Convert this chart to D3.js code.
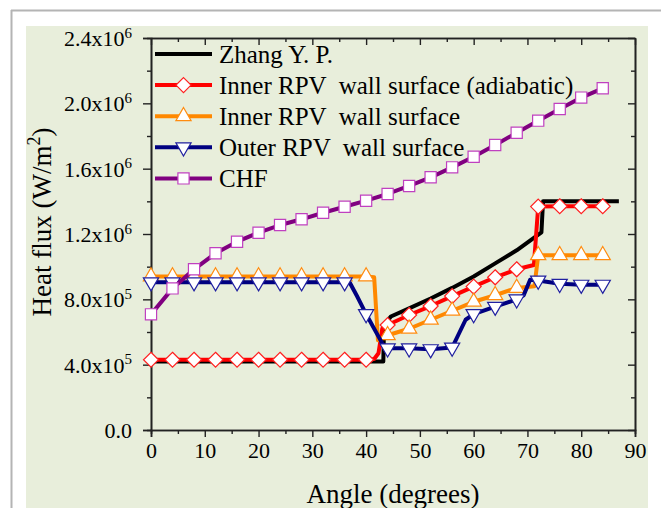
<!DOCTYPE html>
<html><head><meta charset="utf-8">
<script src="https://cdn.jsdelivr.net/npm/d3@7"></script>
<style>
html,body{margin:0;padding:0;background:#fff;}
text{font-family:"Liberation Serif","Times New Roman",serif;fill:#000;}
</style>
</head><body>
<svg id="chart" width="661" height="508"></svg>
<script>
// ---------------- data ----------------
const markerAngles = [0,4,8,12,16,20,24,28,32,36,40,44,48,52,56,60,64,68,72,76,80,84];

const zhangAngles = [0,43.2,43.3,43.8,44.6,48,52,56,60,64,68,72.6,72.9,87];
const zhangValues = [4.2e5,4.2e5,5.8e5,6.6e5,6.95e5,7.45e5,8.05e5,8.7e5,9.4e5,1.02e6,1.1e6,1.21e6,1.4e6,1.4e6];

const adiabaticValues = [4.3e5,4.3e5,4.3e5,4.3e5,4.3e5,4.3e5,4.3e5,4.3e5,4.3e5,4.3e5,4.3e5,
  6.43e5,7.04e5,7.59e5,8.2e5,8.78e5,9.35e5,9.84e5,1.368e6,1.37e6,1.37e6,1.37e6];
const adiabaticExtraAngles = [41.5,42.3,43,71.2];
const adiabaticExtraValues = [4.35e5,4.7e5,6.2e5,1.01e6];

const innerValues = [9.4e5,9.4e5,9.4e5,9.4e5,9.4e5,9.4e5,9.4e5,9.4e5,9.4e5,9.4e5,9.4e5,
  5.8e5,6.2e5,6.75e5,7.3e5,7.85e5,8.25e5,8.7e5,1.07e6,1.07e6,1.07e6,1.07e6];
const innerExtraAngles = [41.5,42.2,71.3];
const innerExtraValues = [9.35e5,5.5e5,8.8e5];

const outerValues = [9.05e5,9.05e5,9.05e5,9.05e5,9.05e5,9.05e5,9.05e5,9.05e5,9.05e5,9.05e5,7.1e5,
  5.0e5,5.0e5,4.95e5,5.05e5,7.1e5,7.55e5,8.0e5,9.15e5,8.95e5,8.9e5,8.9e5];
const outerExtraAngles = [37,38.3,42,43.5,58.5,69.3,70.5];
const outerExtraValues = [9.0e5,8.2e5,5.9e5,5.0e5,6.75e5,8.25e5,9.2e5];

const chfValues = [7.08e5,8.67e5,9.84e5,1.082e6,1.153e6,1.208e6,1.255e6,1.29e6,1.33e6,1.367e6,1.404e6,
  1.445e6,1.494e6,1.547e6,1.608e6,1.673e6,1.745e6,1.82e6,1.894e6,1.965e6,2.035e6,2.092e6];

const seriesNames = ["Zhang Y. P.","Inner RPV  wall surface (adiabatic)","Inner RPV  wall surface","Outer RPV  wall surface","CHF"];

const xTickValues = [0,10,20,30,40,50,60,70,80,90];
const xMinorTickValues = [5,15,25,35,45,55,65,75,85];
const yTickValues = [0,4e5,8e5,1.2e6,1.6e6,2.0e6,2.4e6];
const yTickMantissas = ["0.0","4.0x10","8.0x10","1.2x10","1.6x10","2.0x10","2.4x10"];
const yTickExponents = ["","5","5","6","6","6","6"];
const yMinorTickValues = [2e5,6e5,1.0e6,1.4e6,1.8e6,2.2e6];

const xTitle = "Angle (degrees)";
const yTitleMain = "Heat flux (W/m";
const yTitleSup = "2";

// ---------------- drawing ----------------
const svg = d3.select("#chart");
svg.append("rect").attr("x",0).attr("y",0).attr("width",661).attr("height",508).attr("fill","#fff");
svg.append("rect").attr("x",26).attr("y",26).attr("width",622).attr("height",482).attr("fill","#e8eedb");
svg.append("line").attr("x1",11).attr("x2",661).attr("y1",10.5).attr("y2",10.5).attr("stroke","#b4b4b4").attr("stroke-width",2);
svg.append("line").attr("x1",11.5).attr("x2",11.5).attr("y1",10).attr("y2",508).attr("stroke","#b4b4b4").attr("stroke-width",2);

const x = d3.scaleLinear().domain([0,90]).range([151,635]);
const y = d3.scaleLinear().domain([0,2.4e6]).range([430,38]);

const axisColor = "#222";
function styleAxis(g){
  g.select(".domain").attr("stroke",axisColor).attr("stroke-width",1.6);
  g.selectAll(".tick line").attr("stroke",axisColor).attr("stroke-width",1.4);
}
// bottom
svg.append("g").attr("transform","translate(0,430)")
  .call(d3.axisBottom(x).tickValues(xMinorTickValues).tickSize(4).tickFormat(""))
  .call(styleAxis);
const gx = svg.append("g").attr("transform","translate(0,430)")
  .call(d3.axisBottom(x).tickValues(xTickValues).tickSize(7).tickPadding(5).tickFormat(d=>d))
  .call(styleAxis);
gx.selectAll(".tick text").attr("font-size",22).attr("font-family","Liberation Serif").attr("fill","#000");
// top
svg.append("g").attr("transform","translate(0,38)")
  .call(d3.axisTop(x).tickValues(xTickValues).tickSizeInner(-7).tickSizeOuter(0).tickFormat(""))
  .call(styleAxis);
svg.append("g").attr("transform","translate(0,38)")
  .call(d3.axisTop(x).tickValues(xMinorTickValues).tickSizeInner(-4).tickSizeOuter(0).tickFormat(""))
  .call(styleAxis);
// left
svg.append("g").attr("transform","translate(151,0)")
  .call(d3.axisLeft(y).tickValues(yMinorTickValues).tickSize(4).tickFormat(""))
  .call(styleAxis);
const gy = svg.append("g").attr("transform","translate(151,0)")
  .call(d3.axisLeft(y).tickValues(yTickValues).tickSize(8).tickPadding(11).tickFormat(""))
  .call(styleAxis);
gy.selectAll(".tick text").each(function(d,i){
  const t = d3.select(this).attr("font-size",22).attr("font-family","Liberation Serif").attr("fill","#000").attr("dy","0.34em");
  t.text(null);
  t.append("tspan").text(yTickMantissas[i]);
  if (yTickExponents[i]) t.append("tspan").attr("font-size",15).attr("dy","-0.55em").text(yTickExponents[i]);
});
// right
svg.append("g").attr("transform","translate(635,0)")
  .call(d3.axisRight(y).tickValues(yTickValues).tickSizeInner(-7).tickSizeOuter(0).tickFormat(""))
  .call(styleAxis);
svg.append("g").attr("transform","translate(635,0)")
  .call(d3.axisRight(y).tickValues(yMinorTickValues).tickSizeInner(-4).tickSizeOuter(0).tickFormat(""))
  .call(styleAxis);

// titles
svg.append("text").attr("x",393).attr("y",503).attr("text-anchor","middle").attr("font-size",27).text(xTitle);
const yt = svg.append("text").attr("transform","translate(51,222) rotate(-90)").attr("text-anchor","middle").attr("font-size",27);
yt.append("tspan").text(yTitleMain);
yt.append("tspan").attr("font-size",18).attr("dy","-0.6em").text(yTitleSup);
yt.append("tspan").attr("dy","0.4em").text(")");

// marker shapes
const shapes = {
  none: null,
  diamond: "M0,-7.5L7.5,0L0,7.5L-7.5,0Z",
  up: "M0,-8.7L7.6,4.4L-7.6,4.4Z",
  down: "M0,8.7L7.6,-4.4L-7.6,-4.4Z",
  square: "M-5.6,-5.6H5.6V5.6H-5.6Z"
};

function merge(angles, values, exA, exV){
  const pts = angles.map((a,i)=>[a,values[i]]);
  exA.forEach((a,i)=>pts.push([a,exV[i]]));
  return pts.sort((p,q)=>p[0]-q[0]);
}

const series = [
  {name:seriesNames[0], line:zhangAngles.map((a,i)=>[a,zhangValues[i]]), markers:[], color:"#000000", mstroke:"#000", shape:"none"},
  {name:seriesNames[1], line:merge(markerAngles,adiabaticValues,adiabaticExtraAngles,adiabaticExtraValues), markers:markerAngles.map((a,i)=>[a,adiabaticValues[i]]), color:"#ff0000", mstroke:"#ff2020", shape:"diamond"},
  {name:seriesNames[2], line:merge(markerAngles,innerValues,innerExtraAngles,innerExtraValues), markers:markerAngles.map((a,i)=>[a,innerValues[i]]), color:"#ff8800", mstroke:"#ff8c10", shape:"up"},
  {name:seriesNames[3], line:merge(markerAngles,outerValues,outerExtraAngles,outerExtraValues), markers:markerAngles.map((a,i)=>[a,outerValues[i]]), color:"#000080", mstroke:"#2020a0", shape:"down"},
  {name:seriesNames[4], line:markerAngles.map((a,i)=>[a,chfValues[i]]), markers:markerAngles.map((a,i)=>[a,chfValues[i]]), color:"#800080", mstroke:"#c040c0", shape:"square"}
];

const lineGen = d3.line().x(d=>x(d[0])).y(d=>y(d[1]));
series.forEach(s=>{
  const g = svg.append("g");
  g.append("path").attr("d",lineGen(s.line)).attr("fill","none").attr("stroke",s.color)
    .attr("stroke-width",4).attr("stroke-linejoin","round");
  if (shapes[s.shape]) {
    g.selectAll("path.m").data(s.markers).join("path").attr("class","m")
      .attr("transform",d=>`translate(${x(d[0])},${y(d[1])})`)
      .attr("d",shapes[s.shape]).attr("fill","#fff").attr("stroke",s.mstroke).attr("stroke-width",1.2);
  }
});

// legend
const legend = svg.append("g");
series.forEach((s,i)=>{
  const ly = 54 + i*31.1;
  legend.append("line").attr("x1",155).attr("x2",212).attr("y1",ly).attr("y2",ly).attr("stroke",s.color).attr("stroke-width",4);
  if (shapes[s.shape]) legend.append("path").attr("transform",`translate(183.5,${ly})`).attr("d",shapes[s.shape])
    .attr("fill","#fff").attr("stroke",s.mstroke).attr("stroke-width",1.2);
  legend.append("text").attr("x",219).attr("y",ly+8.5).attr("font-size",25).style("white-space","pre").text(s.name);
});
</script>
</body></html>
